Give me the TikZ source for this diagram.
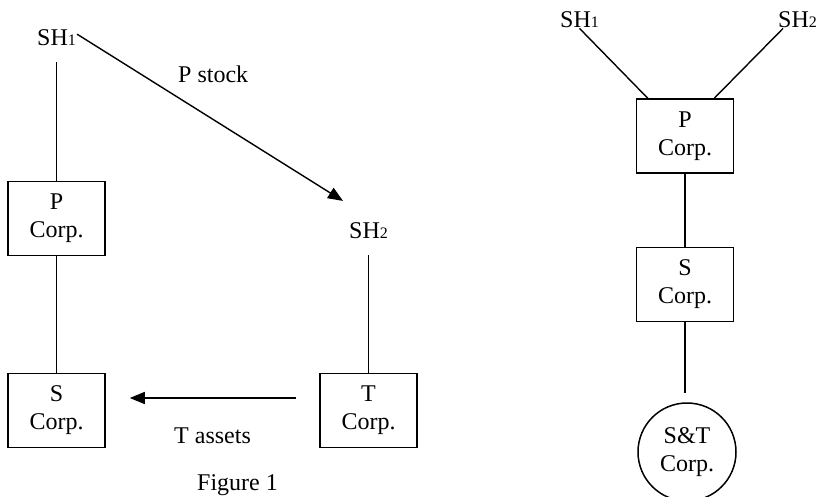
\documentclass[tikz,border=0pt]{standalone}
\usepackage{fontspec}
\setmainfont{Liberation Serif}
\usetikzlibrary{arrows.meta}
\newcommand{\smalldig}[1]{{\fontsize{16}{16}\selectfont #1}}
\begin{document}
\begin{tikzpicture}[x=1pt,y=-1pt,
  every node/.style={font=\fontsize{24}{28}\selectfont},
  lbl/.style={inner sep=0pt, anchor=base west},
  corp/.style={draw, line width=1.5pt, minimum width=97pt, minimum height=74pt, align=center, inner sep=0pt},
  corpc/.style={draw, circle, line width=1.5pt, minimum size=98pt, align=center, inner sep=0pt},
  ln/.style={line width=1.4pt},
  arr/.style={line width=1.4pt, -{Triangle[length=15pt,width=12pt]}}]
\useasboundingbox (0,0) rectangle (819,497);
% left figure
\node[lbl] (sh1) at (37,46) {SH\smalldig{1}};
\node[lbl] (sh2) at (349,239) {SH\smalldig{2}};
\node[corp] (lp) at (56.5,218.5) {P\\Corp.};
\node[corp] (ls) at (56.5,410.5) {S\\Corp.};
\node[corp] (lt) at (368.5,410.5) {T\\Corp.};
\node[lbl] (pstock) at (178,83) {P stock};
\node[lbl] (tassets) at (174,443) {T assets};
\node[lbl] (fig) at (197,490) {Figure 1};
\draw[ln, shorten <=16pt] (sh1.south -| lp.north) -- (lp.north);
\draw[ln] (lp.south) -- (ls.north);
\draw[ln, shorten <=16pt] (sh2.south -| lt.north) -- (lt.north);
\draw[arr] ([shift={(1,-4)}]sh1.east) -- ([shift={(-6,-22)}]sh2.north west);
\draw[arr, shorten <=23pt, shorten >=24pt] ([yshift=12.5pt]lt.west) -- ([yshift=12.5pt]ls.east);
% right figure
\node[lbl] (rsh1) at (560,28) {SH\smalldig{1}};
\node[lbl] (rsh2) at (778,28) {SH\smalldig{2}};
\node[corp] (rp) at (685,136) {P\\Corp.};
\node[corp] (rs) at (685,284.5) {S\\Corp.};
\node[corpc] (rst) at (687,452) {S\&T\\Corp.};
\draw[ln] (rsh1.south) -- ([xshift=12pt]rp.north west);
\draw[ln] ([xshift=-14.5pt]rsh2.south) -- ([xshift=-20pt]rp.north east);
\draw[ln] (rp.south) -- (rs.north);
\draw[ln, shorten >=9pt] (rs.south) -- (rs.south |- rst.north);
\end{tikzpicture}
\end{document}
